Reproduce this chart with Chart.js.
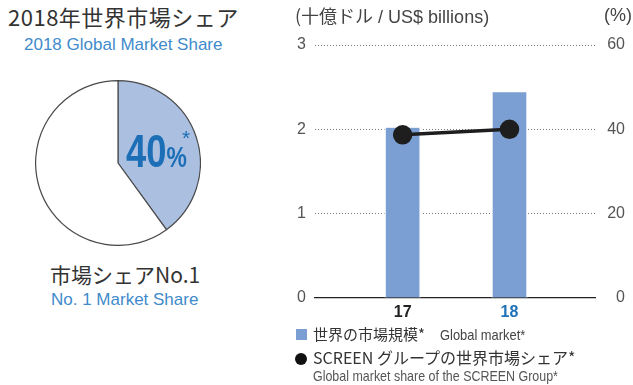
<!DOCTYPE html>
<html lang="ja">
<head>
<meta charset="utf-8">
<script src="https://cdn.jsdelivr.net/npm/chart.js@4.4.1/dist/chart.umd.min.js"></script>
<style>
  html, body { margin: 0; padding: 0; background: #fff; }
  #wrap { position: relative; width: 633px; height: 385px; overflow: hidden;
          font-family: "Liberation Sans", "Noto Sans CJK JP", sans-serif; }
  .t { position: absolute; white-space: nowrap; line-height: 1; }
  .jp { font-family: "Noto Sans CJK JP", sans-serif; }
  .cond { display: inline-block; transform-origin: 0 50%; }
  #pieBox { position: absolute; left: 35px; top: 80px; width: 166px; height: 166px; }
  #barBox { position: absolute; left: 270px; top: 0px; width: 363px; height: 325px; }
</style>
</head>
<body>
<div id="wrap">
  <div id="pieBox"><canvas id="pie"></canvas></div>
  <div id="barBox"><canvas id="bars"></canvas></div>

  <!-- left panel headings -->
  <div class="t jp" style="left:8px; top:5px; font-size:22px; color:#333; letter-spacing:0.5px;">2018年世界市場シェア</div>
  <div class="t" style="left:24px; top:36px; font-size:17px; color:#3f8bcb;">2018 Global Market Share</div>

  <!-- share label inside the pie -->
  <div class="t" style="left:126px; top:128px; color:#1c6fb6; font-weight:bold;">
    <span class="cond" style="transform:scaleX(0.79); font-size:46px;">40<span style="font-size:29px;">%</span></span>
  </div>
  <div class="t" style="left:182px; top:127px; font-size:21px; color:#1c6fb6;">*</div>

  <div class="t jp" style="left:50px; top:264px; font-size:21px; color:#333;">市場シェアNo.1</div>
  <div class="t" style="left:51px; top:291px; font-size:17px; color:#3f8bcb;">No. 1 Market Share</div>

  <!-- axis units -->
  <div class="t" style="left:295px; top:6px; font-size:18px; color:#444;"><span class="jp">(十億ドル</span> / US$ billions)</div>
  <div class="t" style="left:604px; top:6px; font-size:18px; color:#444;">(%)</div>

  <!-- legend -->
  <div style="position:absolute; left:296px; top:329px; width:11px; height:11px; background:#7b9fd2;"></div>
  <div class="t" style="left:313px; top:326px; font-size:15px; color:#333;"><span class="jp">世界の市場規模*</span></div>
  <div class="t" style="left:440px; top:327px; color:#444;"><span class="cond" style="transform:scaleX(0.86); font-size:15px;">Global market*</span></div>
  <div style="position:absolute; left:295px; top:353px; width:12px; height:12px; border-radius:50%; background:#111;"></div>
  <div class="t jp" style="left:313px; top:349px; font-size:16px; color:#333;">SCREEN グループの世界市場シェア*</div>
  <div class="t" style="left:313px; top:368px; color:#555;"><span class="cond" style="transform:scaleX(0.83); font-size:15px;">Global market share of the SCREEN Group*</span></div>
</div>

<script>
// Fiscal-year categories and values
const years = [17, 18];
const yearLabels = ['17', '18'];
const marketSize = [2.02, 2.44];      // global market, US$ billions
const screenShare = [38.7, 40];       // SCREEN Group share, %
const pieShare = [40, 60];            // 2018 share vs. others, %
const leftTicks = [0, 1, 2, 3];
const rightTicks = [0, 20, 40, 60];

const BAR_BLUE = '#7b9fd2';
const TEXT_BLUE = '#1f72b8';
const tickFont = { family: 'Liberation Sans', size: 16 };

// Pie: 2018 global market share
new Chart(document.getElementById('pie'), {
  type: 'pie',
  data: {
    labels: ['SCREEN', 'Others'],
    datasets: [{
      data: pieShare,
      backgroundColor: ['#abbfe1', '#ffffff'],
      borderColor: '#4a4a4a',
      borderWidth: 1.2
    }]
  },
  options: {
    responsive: true,
    maintainAspectRatio: false,
    animation: false,
    layout: { padding: 0 },
    plugins: { legend: { display: false }, tooltip: { enabled: false } }
  }
});

// Bars (market size) with the share line on a secondary axis
new Chart(document.getElementById('bars'), {
  data: {
    datasets: [
      {
        type: 'line',
        label: 'SCREEN share',
        data: years.map((x, i) => ({ x, y: screenShare[i] })),
        yAxisID: 'yR',
        borderColor: '#1e1e1e',
        backgroundColor: '#1e1e1e',
        borderWidth: 3.5,
        pointRadius: 8,
        pointHoverRadius: 8,
        order: 0
      },
      {
        type: 'bar',
        label: 'Global market',
        data: years.map((x, i) => ({ x, y: marketSize[i] })),
        yAxisID: 'yL',
        backgroundColor: BAR_BLUE,
        borderColor: '#ffffff',
        borderWidth: { left: 1.5, right: 1.5, top: 0, bottom: 0 },
        borderSkipped: false,
        barThickness: 36,
        order: 1
      }
    ]
  },
  options: {
    responsive: true,
    maintainAspectRatio: false,
    animation: false,
    layout: { padding: { top: 45, bottom: 0, left: 0, right: 8 } },
    plugins: { legend: { display: false }, tooltip: { enabled: false } },
    scales: {
      x: {
        type: 'linear',
        offset: false,
        min: 16.18,
        max: 18.8,
        afterBuildTicks: s => { s.ticks = years.map(v => ({ value: v })); },
        afterFit: s => { s.height = 27; },
        grid: { display: false, drawTicks: false },
        border: { display: true, color: '#222', width: 1.3 },
        ticks: {
          padding: 5,
          font: { family: 'Liberation Sans', size: 16, weight: 'bold' },
          color: ctx => (ctx.tick && ctx.tick.value === 18) ? TEXT_BLUE : '#222',
          callback: v => yearLabels[years.indexOf(v)]
        }
      },
      yL: {
        position: 'left',
        min: 0,
        max: 3,
        afterBuildTicks: s => { s.ticks = leftTicks.map(v => ({ value: v })); },
        afterFit: s => { s.width = 45; },
        grid: {
          color: ctx => ctx.tick.value === 0 ? 'rgba(0,0,0,0)' : '#7a7a7a',
          lineWidth: 1,
          drawTicks: false
        },
        border: { display: false, dash: [1, 2] },
        ticks: { padding: 9, font: tickFont, color: '#555' }
      },
      yR: {
        position: 'right',
        min: 0,
        max: 60,
        afterBuildTicks: s => { s.ticks = rightTicks.map(v => ({ value: v })); },
        afterFit: s => { s.width = 30; },
        grid: { display: false, drawTicks: false },
        border: { display: false },
        ticks: { padding: 0, crossAlign: 'far', font: tickFont, color: '#555' }
      }
    }
  }
});
</script>
</body>
</html>
